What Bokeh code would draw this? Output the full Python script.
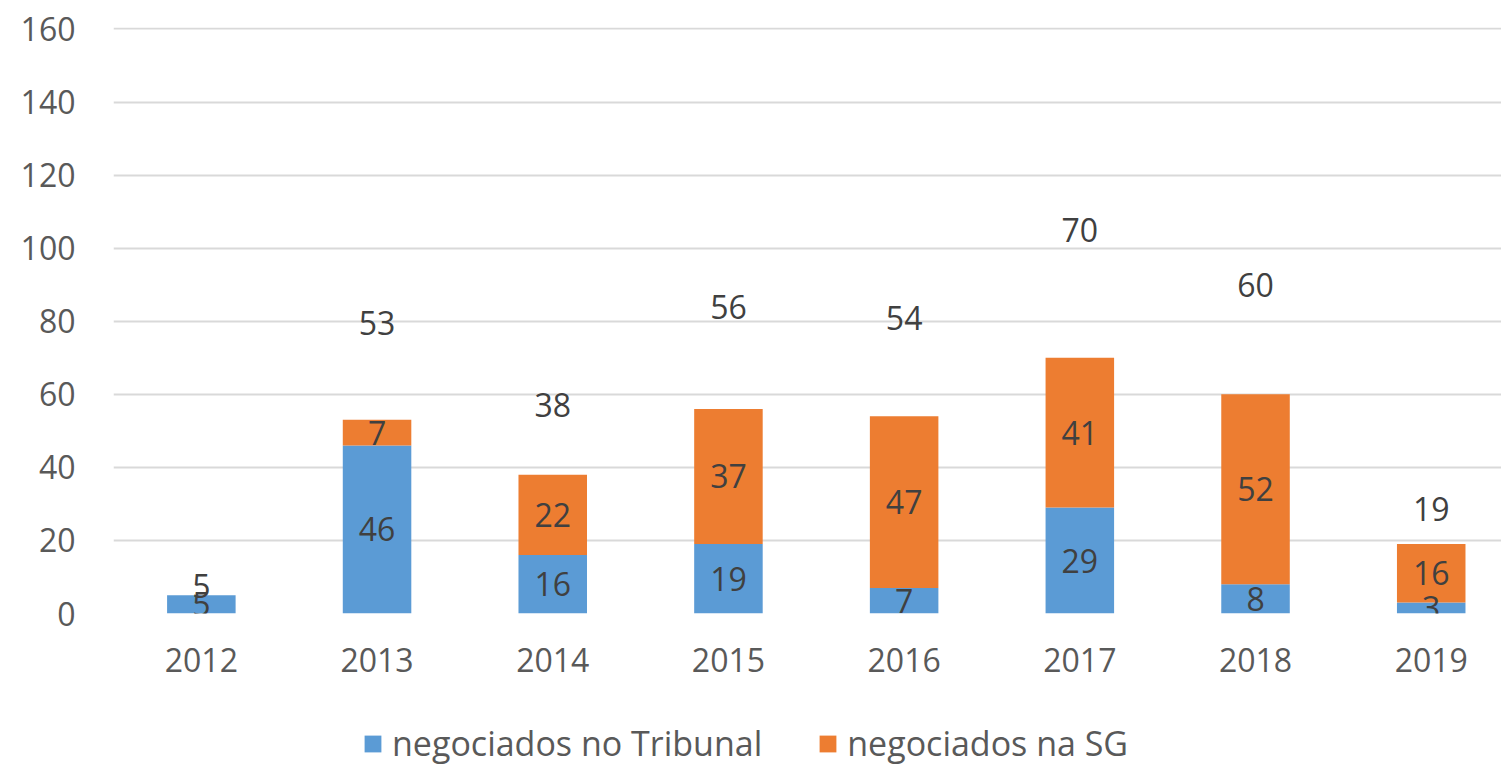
from bokeh.plotting import figure
from bokeh.layouts import column
from bokeh.models import (ColumnDataSource, Range1d, FixedTicker, Legend, LegendItem)
from bokeh.core.properties import value
from bokeh.embed import file_html
from bokeh.resources import INLINE

years = ["2012", "2013", "2014", "2015", "2016", "2017", "2018", "2019"]
tribunal = [5, 46, 16, 19, 7, 29, 8, 3]
sg = [0, 7, 22, 37, 47, 41, 52, 16]
y_ticks = [0, 20, 40, 60, 80, 100, 120, 140, 160]
series_names = ["negociados no Tribunal", "negociados na SG"]

BLUE = "#5B9BD5"
ORANGE = "#ED7D31"
COLORS = [BLUE, ORANGE]
FONT = "Open Sans"
TXT = "#404040"
AX = "#595959"

xs = [i + 0.5 for i in range(len(years))]
totals = [a + b for a, b in zip(tribunal, sg)]

source = ColumnDataSource(dict(x=xs, tribunal=tribunal, sg=sg))

p = figure(width=1501, height=700, x_range=Range1d(0, 7.9), y_range=Range1d(0, 160.4),
           output_backend="svg", toolbar_location=None,
           min_border_left=113, min_border_right=0, min_border_top=27, min_border_bottom=87)
p.outline_line_color = None
p.background_fill_color = "white"
p.border_fill_color = "white"

rs = p.vbar_stack(["tribunal", "sg"], x="x", width=0.39, color=COLORS,
                  line_color=None, source=source)

# segment labels
lx, ly, lt = [], [], []
for x, a, b in zip(xs, tribunal, sg):
    if a:
        lx.append(x); ly.append(a / 2); lt.append(str(a))
    if b:
        lx.append(x); ly.append(a + b / 2); lt.append(str(b))
p.text(x=lx, y=ly, text=lt, text_align="center", text_baseline="middle",
       text_font=value(FONT), text_font_size="32px", text_color=TXT)

# total labels (Excel hidden-series style: centred on an invisible stacked total)
p.text(x=xs, y=[t * 1.5 for t in totals], text=[str(t) for t in totals],
       text_align="center", text_baseline="middle",
       text_font=value(FONT), text_font_size="32px", text_color=TXT)

# axes
p.yaxis.ticker = FixedTicker(ticks=y_ticks)
p.xaxis.ticker = FixedTicker(ticks=xs)
p.xaxis.major_label_overrides = {x: y for x, y in zip(xs, years)}
for ax in (p.xaxis, p.yaxis):
    ax.axis_line_color = None
    ax.major_tick_line_color = None
    ax.minor_tick_line_color = None
    ax.major_label_text_font = FONT
    ax.major_label_text_font_size = "32px"
    ax.major_label_text_color = AX
p.yaxis.major_label_standoff = 32
p.xaxis.major_label_standoff = 28

p.xgrid.grid_line_color = None
p.ygrid.ticker = FixedTicker(ticks=y_ticks)
p.ygrid.grid_line_color = "#D9D9D9"
p.ygrid.grid_line_width = 2

# legend strip below the chart
leg = figure(width=1501, height=67, x_range=Range1d(0, 1), y_range=Range1d(0, 1),
             x_axis_location=None, y_axis_location=None,
             output_backend="svg", toolbar_location=None,
             min_border_left=0, min_border_right=0, min_border_top=0, min_border_bottom=0)
leg.grid.visible = False
leg.outline_line_color = None
leg.border_fill_color = "white"
leg.background_fill_color = "white"
# swatch renderers: one point each, placed outside the visible range
swatches = [leg.vbar(x=[-5], top=[-5], bottom=[-6], width=0.1, color=c, line_color=None)
            for c in COLORS]

legend = Legend(items=[LegendItem(label=n, renderers=[r]) for n, r in zip(series_names, swatches)],
                orientation="horizontal", location=(249, 1))
legend.label_text_font = FONT
legend.label_text_font_size = "34px"
legend.label_text_color = AX
legend.glyph_width = 21
legend.glyph_height = 21
legend.label_standoff = 9
legend.spacing = 55
legend.padding = 0
legend.margin = 0
legend.border_line_color = None
legend.background_fill_alpha = 0
leg.add_layout(legend)

layout = column(p, leg, spacing=0)
open("out.html", "w").write(file_html(layout, INLINE))
